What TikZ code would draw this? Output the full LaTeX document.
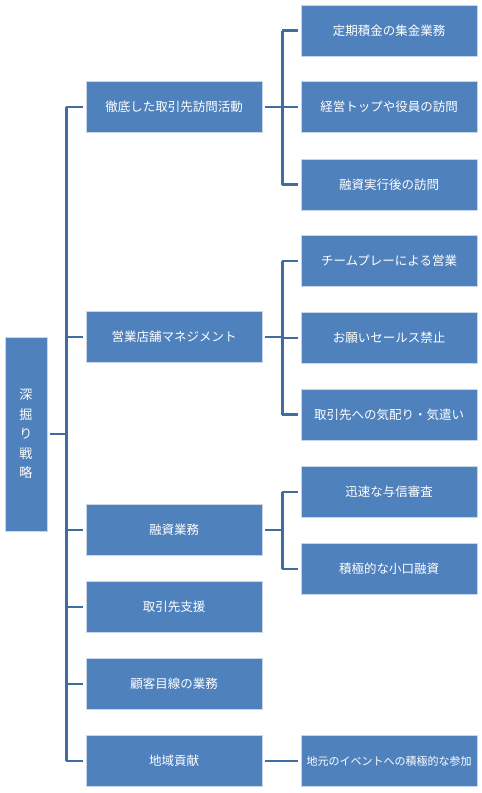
\documentclass[tikz,border=0pt]{standalone}
\usepackage{fontspec}
\newfontfamily\cjk{Noto Sans CJK JP}
\definecolor{boxblue}{RGB}{79,129,189}
\definecolor{boxedge}{RGB}{200,214,234}
\definecolor{linkblue}{RGB}{65,108,160}
\begin{document}
\begin{tikzpicture}[x=1pt,y=-1pt,
  box/.style={rectangle,fill=boxblue,draw=boxedge,line width=0.8pt,
    minimum width=176pt,minimum height=51pt,inner sep=0pt,
    text=white,font=\cjk\fontsize{12.5}{14}\selectfont},
  rootbox/.style={rectangle,fill=boxblue,draw=boxedge,line width=0.8pt,
    minimum width=42pt,minimum height=194pt,inner sep=0pt,
    text=white,align=center,font=\cjk\fontsize{13}{19.5}\selectfont},
  conn/.style={draw=linkblue,line width=2.6pt,line cap=butt,line join=miter}]
\useasboundingbox (0,0) rectangle (482,793);
\node[rootbox] (root) at (26,434) {深\\掘\\り\\戦\\略};
% level 1
\node[box] (a) at (174,107) {徹底した取引先訪問活動};
\node[box] (b) at (174,337) {営業店舗マネジメント};
\node[box] (c) at (174,530) {融資業務};
\node[box] (d) at (174,607) {取引先支援};
\node[box] (e) at (174,684) {顧客目線の業務};
\node[box] (f) at (174,761) {地域貢献};
% level 2
\node[box] (a1) at (389,30.5) {定期積金の集金業務};
\node[box] (a2) at (389,107) {経営トップや役員の訪問};
\node[box] (a3) at (389,184.5) {融資実行後の訪問};
\node[box] (b1) at (389,261) {チームプレーによる営業};
\node[box] (b2) at (389,338) {お願いセールス禁止};
\node[box] (b3) at (389,414.5) {取引先への気配り・気遣い};
\node[box] (c1) at (389,492) {迅速な与信審査};
\node[box] (c2) at (389,569) {積極的な小口融資};
\node[box,font=\cjk\fontsize{11}{13}\selectfont] (f1) at (389,761) {地元のイベントへの積極的な参加};
% trunk
\draw[conn] ([xshift=3pt]root.east) -- ++(16,0) coordinate (tr);
\draw[conn] (tr |- a.west) -- (tr |- f.west);
\foreach \n in {a,b,c,d,e,f}
  \draw[conn] (tr |- \n.west) -- ([xshift=-3pt]\n.west);
% branches
\draw[conn] ([xshift=3pt]a.east) -- ++(17,0) coordinate (ja);
\draw[conn] (ja |- a1.west) -- (ja |- a3.west);
\foreach \n in {a1,a2,a3}
  \draw[conn] (ja |- \n.west) -- ([xshift=-3pt]\n.west);
\draw[conn] ([xshift=3pt]b.east) -- ++(17,0) coordinate (jb);
\draw[conn] (jb |- b1.west) -- (jb |- b3.west);
\foreach \n in {b1,b2,b3}
  \draw[conn] (jb |- \n.west) -- ([xshift=-3pt]\n.west);
\draw[conn] ([xshift=3pt]c.east) -- ++(17,0) coordinate (jc);
\draw[conn] (jc |- c1.west) -- (jc |- c2.west);
\foreach \n in {c1,c2}
  \draw[conn] (jc |- \n.west) -- ([xshift=-3pt]\n.west);
\draw[conn] ([xshift=3pt]f.east) -- ([xshift=-3pt]f1.west);
\end{tikzpicture}
\end{document}
